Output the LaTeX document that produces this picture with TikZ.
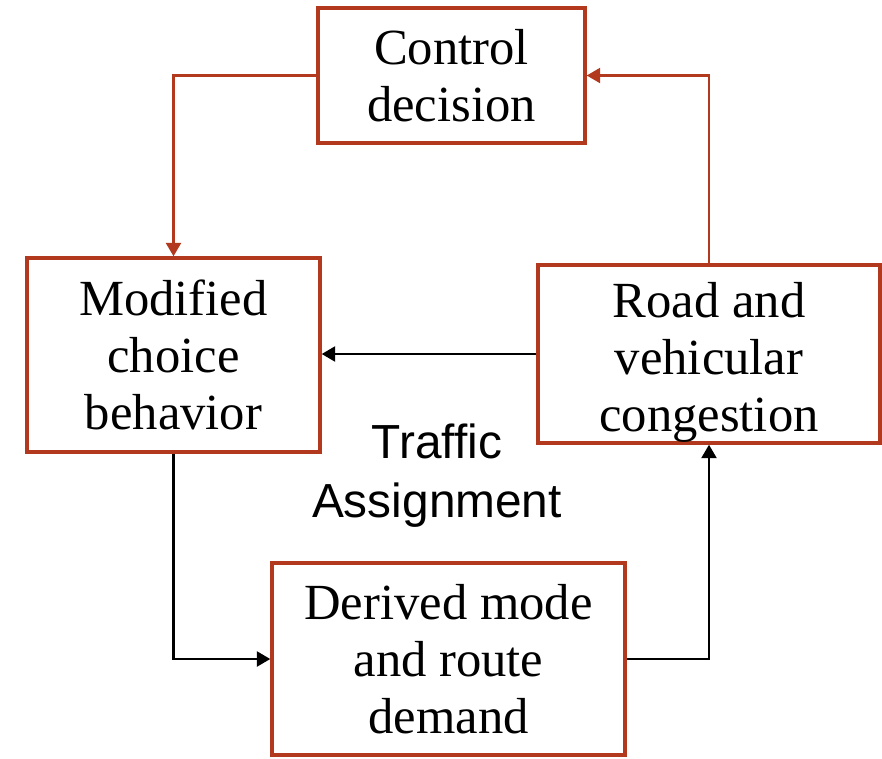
\documentclass[tikz,border=0pt]{standalone}
\usepackage{fontspec}
\setmainfont{Liberation Serif}
\setsansfont{Liberation Sans}
\usetikzlibrary{arrows.meta}
\definecolor{boxred}{RGB}{178,56,30}
\begin{document}
\begin{tikzpicture}[x=0.025cm,y=-0.025cm,
        box/.style={draw=boxred,line width=2.4pt,align=center,inner sep=0pt,
            font=\fontsize{36}{40.5}\selectfont},
        redline/.style={draw=boxred,line width=1.9pt,-{Triangle[length=9.5pt,width=10.5pt]}},
        blackline/.style={draw=black,line width=1.9pt,-{Triangle[length=9.5pt,width=10.5pt]}}]
    \useasboundingbox (0,0) rectangle (882,758);
    \node[box,minimum width=267*0.025cm,minimum height=135*0.025cm] (C) at (451.5,75.5){Control\\decision};
    \node[box,minimum width=293*0.025cm,minimum height=194*0.025cm] (M) at (173.5,355){Modified\\choice\\behavior};
    \node[box,minimum width=342*0.025cm,minimum height=178*0.025cm] (R) at (709,354){\raisebox{-12.5pt}[0pt][0pt]{\begin{tabular}{@{}c@{}}Road and\\vehicular\\congestion\end{tabular}}};
    \node[box,minimum width=353*0.025cm,minimum height=192*0.025cm] (D) at (448.5,659){Derived mode\\and route\\demand};
    \node[align=center,font=\sffamily\fontsize{34}{42}\selectfont] (T) at (437,476){Traffic\\Assignment};
    % red loop
    \draw[redline] (C.west)-|(M.north);
    \draw[redline] (R.north)|-(C.east);
    % black loop
    \draw[blackline] (R.west)--(M.east|-R.west);
    \draw[blackline] (M.south)|-(D.west);
    \draw[blackline] (D.east)-|(R.south);
\end{tikzpicture}
\end{document}
